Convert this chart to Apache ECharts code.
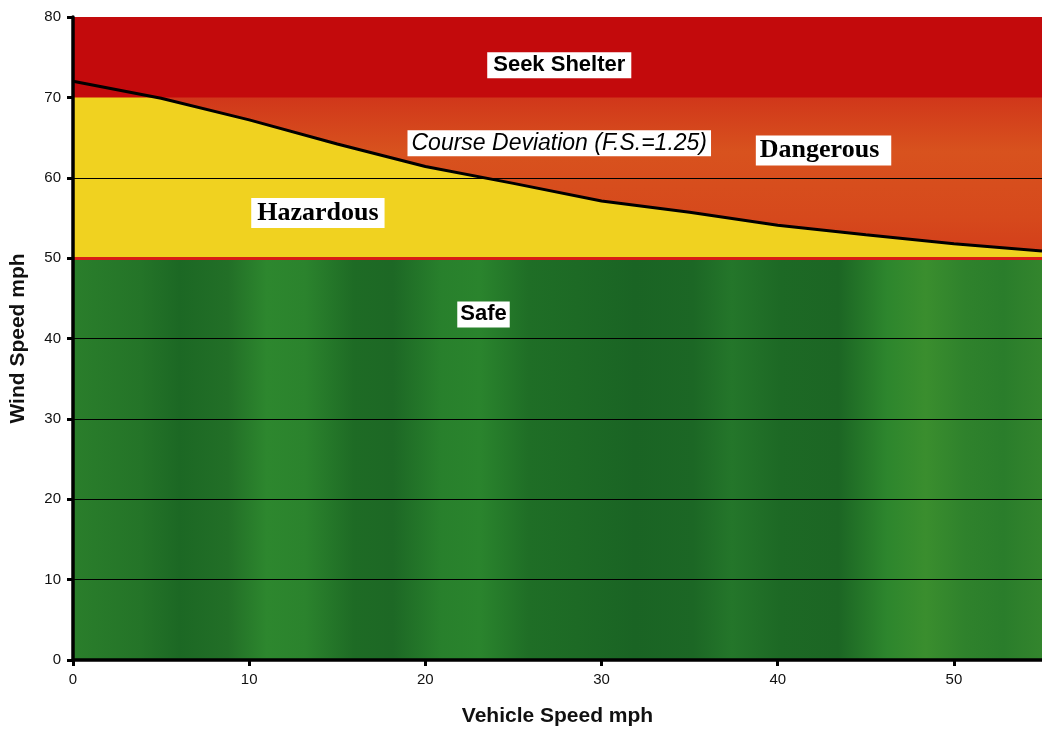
<!DOCTYPE html>
<html><head><meta charset="utf-8">
<script src="https://cdn.jsdelivr.net/npm/echarts@6/dist/echarts.min.js"></script>
<style>html,body{margin:0;padding:0;background:#fff}#c{width:1042px;height:736px}</style>
</head><body><div id="c"></div>
<script>
// ---- data ----
const vehicleSpeed = [0, 5, 10, 15, 20, 25, 30, 35, 40, 45, 50, 55];
const courseDeviationWind = [72, 69.9, 67.2, 64.2, 61.4, 59.3, 57.1, 55.7, 54.1, 52.9, 51.8, 50.9];
const safeLimit = 50;
const shelterLimit = 70;
const windMax = 80;
const speedMax = 55;
const gridLineValues = [10, 20, 30, 40, 60];
const xTickValues = [0, 10, 20, 30, 40, 50];
const zoneNames = ['Seek Shelter', 'Course Deviation (F.S.=1.25)', 'Dangerous', 'Hazardous', 'Safe'];
const zoneSpeed = [27.6, 27.6, 42.6, 13.9, 23.3];
const zoneWind = [74.0, 64.3, 63.4, 55.6, 43.0];

// ---- chart ----
const SANS = '"Liberation Sans", Arial, sans-serif';
const SERIF = '"Liberation Serif", "Times New Roman", serif';
const curve = vehicleSpeed.map((v, i) => [v, courseDeviationWind[i]]);

const greenStripes = new echarts.graphic.LinearGradient(0, 0, 1, 0, [
  {offset: 0.00, color: '#2a7e2b'}, {offset: 0.07, color: '#247428'},
  {offset: 0.11, color: '#1c6824'}, {offset: 0.16, color: '#226f27'},
  {offset: 0.20, color: '#2d872e'}, {offset: 0.24, color: '#2b832d'},
  {offset: 0.29, color: '#1e6b25'}, {offset: 0.33, color: '#1d6825'},
  {offset: 0.38, color: '#28802c'}, {offset: 0.42, color: '#2a842d'},
  {offset: 0.47, color: '#1f6e26'}, {offset: 0.52, color: '#1d6a25'},
  {offset: 0.58, color: '#1a6424'}, {offset: 0.64, color: '#1c6725'},
  {offset: 0.68, color: '#24762a'}, {offset: 0.73, color: '#1d6925'},
  {offset: 0.79, color: '#1c6624'}, {offset: 0.84, color: '#2d862d'},
  {offset: 0.88, color: '#3a8e2e'}, {offset: 0.92, color: '#2f822c'},
  {offset: 0.96, color: '#2a7d2b'}, {offset: 1.00, color: '#33852d'}
]);
const midRed = new echarts.graphic.LinearGradient(0, 0, 0, 1, [
  {offset: 0, color: '#d0361a'}, {offset: 0.35, color: '#d8521e'},
  {offset: 0.75, color: '#d6491c'}, {offset: 1, color: '#d23d1a'}
]);

const labelStyles = [
  {fontFamily: SANS, fontWeight: 'bold', fontSize: 22, padding: [1, 6, 1, 6]},
  {fontFamily: SANS, fontStyle: 'italic', fontSize: 23, padding: [1, 4, 1, 4]},
  {fontFamily: SERIF, fontWeight: 'bold', fontSize: 26, padding: [4, 12, 2, 4]},
  {fontFamily: SERIF, fontWeight: 'bold', fontSize: 26, padding: [4, 6, 2, 6]},
  {fontFamily: SANS, fontWeight: 'bold', fontSize: 22, padding: [1, 3, 1, 3]}
];

const chart = echarts.init(document.getElementById('c'), null, {renderer: 'canvas'});
chart.setOption({
  animation: false,
  backgroundColor: '#ffffff',
  grid: {left: 70, right: 0, top: 17, bottom: 76, containLabel: false},
  xAxis: {
    type: 'value', min: 0, max: speedMax, interval: 10, z: 10,
    name: 'Vehicle Speed mph', nameLocation: 'middle', nameGap: 46,
    nameTextStyle: {fontFamily: SANS, fontWeight: 'bold', fontSize: 21, color: '#111'},
    axisLine: {show: true, onZero: false, lineStyle: {color: '#000', width: 3.5}},
    axisTick: {show: true, inside: false, length: 6, customValues: xTickValues, lineStyle: {color: '#000', width: 3}},
    axisLabel: {customValues: xTickValues, margin: 12, fontFamily: SANS, fontSize: 15, color: '#111'},
    splitLine: {show: false}
  },
  yAxis: {
    type: 'value', min: 0, max: windMax, interval: 10, z: 10,
    name: 'Wind Speed mph', nameLocation: 'middle', nameGap: 44, nameRotate: 90,
    nameTextStyle: {fontFamily: SANS, fontWeight: 'bold', fontSize: 21, color: '#111'},
    axisLine: {show: true, onZero: false, lineStyle: {color: '#000', width: 3.5}},
    axisTick: {show: true, inside: false, length: 6, lineStyle: {color: '#000', width: 3}},
    axisLabel: {margin: 12, fontFamily: SANS, fontSize: 15, color: '#111'},
    splitLine: {show: false}
  },
  series: [
    {
      type: 'line', data: curve, symbol: 'none', lineStyle: {opacity: 0}, silent: true, z: 1,
      markArea: {silent: true, z: 1, itemStyle: {color: midRed},
        data: [[{yAxis: safeLimit}, {yAxis: shelterLimit + 0.3}]]}
    },
    {
      type: 'line', data: curve, symbol: 'none', lineStyle: {width: 0}, silent: true, z: 2,
      areaStyle: {color: '#f0d220', opacity: 1, origin: 'start'}
    },
    {
      type: 'line', data: curve, symbol: 'none', lineStyle: {opacity: 0}, silent: true, z: 3,
      markArea: {silent: true, z: 3,
        data: [
          [{yAxis: 0, itemStyle: {color: greenStripes}}, {yAxis: safeLimit}],
          [{yAxis: shelterLimit, itemStyle: {color: '#c30a0c'}}, {yAxis: windMax}]
        ]}
    },
    {
      type: 'line', data: curve, symbol: 'none', lineStyle: {opacity: 0}, silent: true, z: 4,
      markLine: {silent: true, z: 4, symbol: ['none', 'none'], label: {show: false},
        data: gridLineValues.map(v => ({yAxis: v, lineStyle: {color: '#000', width: 1.2, type: 'solid'}}))
          .concat([{yAxis: safeLimit, lineStyle: {color: '#d81e16', width: 3, type: 'solid'}}])}
    },
    {
      type: 'line', data: curve, symbol: 'none', z: 5, silent: true,
      lineStyle: {color: '#000', width: 3}
    },
    {
      type: 'scatter', z: 6, silent: true, symbolSize: 1,
      itemStyle: {color: 'rgba(0,0,0,0)', opacity: 1},
      data: zoneNames.map((n, i) => ({
        value: [zoneSpeed[i], zoneWind[i]], name: n,
        itemStyle: {opacity: 1},
        label: Object.assign({show: true, position: 'inside', formatter: n, color: '#000',
          backgroundColor: '#ffffff', lineHeight: 24, opacity: 1}, labelStyles[i])
      }))
    }
  ]
});
</script>
</body></html>
